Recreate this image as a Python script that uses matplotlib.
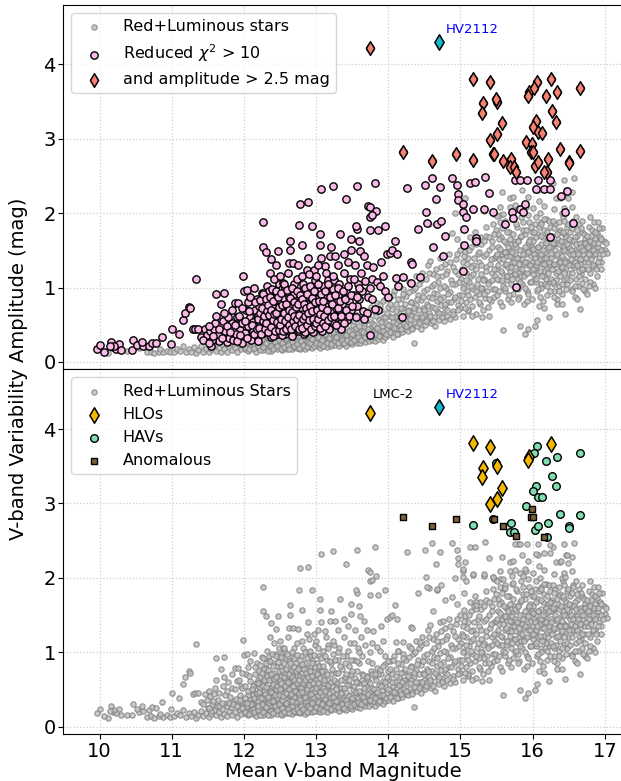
import numpy as np
import matplotlib

matplotlib.use("Agg")
import matplotlib.pyplot as plt  # noqa: E402

# ---- data (mean V mag, V amplitude) ----
# red+luminous stars that are NOT flagged by chi2 (plotted grey only)
grey_only = [
    (10.12, 0.12), (10.38, 0.15), (10.66, 0.13), (10.71, 0.14), (10.76, 0.12), (10.82, 0.14),
    (10.88, 0.13), (10.93, 0.15), (10.97, 0.13), (11.03, 0.14), (11.08, 0.18), (10.55, 0.19),
    (10.84, 0.17),
    (11.12, 0.15), (11.16, 0.22), (11.2, 0.13), (11.24, 0.18), (11.27, 0.14), (11.31, 0.20),
    (11.33, 0.12), (11.36, 0.16), (11.41, 0.21), (11.44, 0.14), (11.47, 0.18), (11.5, 0.25),
    (11.52, 0.13), (11.55, 0.17), (11.58, 0.22), (11.61, 0.15), (11.63, 0.28), (11.66, 0.19),
    (11.68, 0.13), (11.7, 0.24), (11.73, 0.17), (11.75, 0.31), (11.77, 0.14), (11.8, 0.21),
    (11.82, 0.26), (11.84, 0.16), (11.86, 0.35), (11.88, 0.19), (11.9, 0.13), (11.92, 0.28),
    (11.94, 0.22), (11.96, 0.17), (11.98, 0.33), (11.99, 0.25),
    (12.01, 0.18), (12.02, 0.31), (12.03, 0.24), (12.05, 0.42), (12.06, 0.15), (12.07, 0.27),
    (12.08, 0.36), (12.1, 0.21), (12.11, 0.49), (12.12, 0.17), (12.13, 0.30), (12.15, 0.23),
    (12.16, 0.39), (12.17, 0.14), (12.18, 0.28), (12.2, 0.55), (12.21, 0.19), (12.22, 0.34),
    (12.23, 0.25), (12.24, 0.44),
    (12.26, 0.16), (12.27, 0.29), (12.28, 0.37), (12.29, 0.21), (12.3, 0.62), (12.31, 0.26),
    (12.32, 0.18), (12.33, 0.41), (12.34, 0.33), (12.35, 0.22), (12.36, 0.5), (12.37, 0.15),
    (12.38, 0.28), (12.39, 0.36), (12.4, 0.24), (12.41, 0.45), (12.42, 0.19), (12.43, 0.31),
    (12.44, 0.58), (12.45, 0.27), (12.46, 0.17), (12.47, 0.38), (12.48, 0.23), (12.49, 0.33),
    (12.5, 0.2), (12.51, 0.47), (12.52, 0.29), (12.53, 0.16), (12.54, 0.35), (12.55, 0.25),
    (12.56, 0.66), (12.57, 0.21), (12.58, 0.4), (12.59, 0.3), (12.6, 0.18), (12.61, 0.52),
    (12.62, 0.26), (12.63, 0.34), (12.64, 0.22), (12.65, 0.43), (12.66, 0.17), (12.67, 0.31),
    (12.68, 0.6), (12.69, 0.24), (12.7, 0.37), (12.71, 0.2), (12.72, 0.28), (12.73, 0.48),
    (12.74, 0.19),
    (12.75, 0.33), (12.76, 0.23), (12.77, 0.42), (12.78, 0.18), (12.79, 0.3), (12.8, 0.55),
    (12.81, 0.26), (12.82, 0.21), (12.83, 0.38), (12.84, 0.29), (12.85, 0.17), (12.86, 0.46),
    (12.87, 0.25), (12.88, 0.34), (12.89, 0.2), (12.9, 0.63), (12.91, 0.28), (12.92, 0.22),
    (12.93, 0.4), (12.94, 0.31), (12.95, 0.19), (12.96, 0.51), (12.97, 0.27), (12.98, 0.36),
    (12.99, 0.23),
    (13.0, 0.3), (13.01, 0.21), (13.02, 0.42), (13.03, 0.26), (13.04, 0.35), (13.05, 0.19),
    (13.06, 0.5), (13.07, 0.29), (13.08, 0.23), (13.09, 0.39), (13.1, 0.32), (13.11, 0.22),
    (13.12, 0.46), (13.13, 0.27), (13.14, 0.36), (13.15, 0.2), (13.16, 0.55), (13.17, 0.31),
    (13.18, 0.25), (13.19, 0.41), (13.2, 0.29), (13.21, 0.22), (13.22, 0.48), (13.23, 0.34),
    (13.24, 0.26),
    (13.25, 0.38), (13.26, 0.23), (13.27, 0.58), (13.28, 0.3), (13.29, 0.44), (13.3, 0.25),
    (13.31, 0.35), (13.32, 0.21), (13.33, 0.52), (13.34, 0.32), (13.35, 0.27), (13.36, 0.41),
    (13.37, 0.24), (13.38, 0.62), (13.39, 0.33), (13.4, 0.29), (13.41, 0.47), (13.42, 0.22),
    (13.43, 0.37), (13.44, 0.28), (13.45, 0.56), (13.46, 0.34), (13.47, 0.25), (13.48, 0.43),
    (13.49, 0.31),
    (13.5, 0.24), (13.51, 0.5), (13.52, 0.36), (13.53, 0.28), (13.54, 0.65), (13.55, 0.33),
    (13.56, 0.26), (13.57, 0.45), (13.58, 0.38), (13.59, 0.3), (13.6, 0.58), (13.61, 0.25),
    (13.62, 0.41), (13.63, 0.34), (13.64, 0.7), (13.65, 0.29), (13.66, 0.48), (13.67, 0.37),
    (13.68, 0.27), (13.69, 0.55), (13.7, 0.4), (13.71, 0.32), (13.72, 0.63), (13.73, 0.28),
    (13.74, 0.46),
    (13.75, 0.36), (13.76, 0.74), (13.77, 0.3), (13.78, 0.52), (13.79, 0.42), (13.8, 0.33),
    (13.81, 0.67), (13.82, 0.28), (13.83, 0.47), (13.84, 0.38), (13.85, 0.79), (13.86, 0.31),
    (13.87, 0.56), (13.88, 0.43), (13.89, 0.35), (13.9, 0.7), (13.91, 0.49), (13.92, 0.3),
    (13.93, 0.61), (13.94, 0.4), (13.95, 0.84), (13.96, 0.34), (13.97, 0.53), (13.98, 0.45),
    (13.99, 0.74),
    (14.0, 0.36), (14.01, 0.62), (14.02, 0.49), (14.03, 0.88), (14.04, 0.41), (14.05, 0.71),
    (14.06, 0.55), (14.07, 0.34), (14.08, 0.95), (14.09, 0.6), (14.1, 0.45), (14.11, 0.78),
    (14.12, 0.52), (14.13, 0.38), (14.14, 1.02), (14.15, 0.66), (14.16, 0.48), (14.17, 0.84),
    (14.18, 0.57), (14.19, 0.4), (14.2, 0.73), (14.21, 0.98), (14.22, 0.51), (14.23, 0.63),
    (14.24, 0.44),
    (14.25, 0.89), (14.26, 0.58), (14.27, 0.42), (14.28, 1.08), (14.29, 0.7), (14.3, 0.5),
    (14.31, 0.81), (14.32, 0.62), (14.33, 0.46), (14.34, 0.97), (14.35, 0.26), (14.36, 0.68),
    (14.37, 0.53), (14.38, 1.15), (14.39, 0.76), (14.4, 0.48), (14.41, 0.9), (14.42, 0.6),
    (14.43, 1.05), (14.44, 0.55), (14.45, 0.83), (14.46, 0.45), (14.47, 1.2), (14.48, 0.72),
    (14.49, 0.63),
    (14.5, 0.95), (14.51, 0.5), (14.52, 1.12), (14.53, 0.78), (14.54, 0.58), (14.55, 1.3),
    (14.56, 0.88), (14.57, 0.66), (14.58, 1.36), (14.59, 0.52), (14.6, 1.02), (14.61, 0.74),
    (14.62, 1.18), (14.63, 0.61), (14.64, 0.93), (14.65, 0.48), (14.66, 1.25), (14.67, 0.82),
    (14.68, 0.69), (14.69, 1.08), (14.7, 0.57), (14.71, 0.99), (14.72, 1.4), (14.73, 0.76),
    (14.74, 0.64),
    (14.75, 1.15), (14.76, 0.87), (14.77, 0.55), (14.78, 1.32), (14.79, 0.72), (14.8, 1.0),
    (14.81, 0.62), (14.82, 1.22), (14.83, 0.8), (14.84, 1.45), (14.85, 0.58), (14.86, 0.94),
    (14.87, 1.1), (14.88, 1.74), (14.89, 0.68), (14.9, 1.28), (14.91, 0.85), (14.92, 1.05),
    (14.93, 0.6), (14.94, 1.38), (14.95, 1.65), (14.96, 0.77), (14.97, 1.18), (14.98, 0.9),
    (14.99, 1.5),
    (15.0, 0.72), (15.01, 1.12), (15.02, 0.9), (15.03, 1.35), (15.04, 0.62), (15.05, 1.02),
    (15.06, 1.48), (15.07, 0.8), (15.08, 1.2), (15.09, 0.95), (15.1, 0.68), (15.11, 1.4),
    (15.12, 1.08), (15.13, 0.85), (15.14, 1.55), (15.15, 1.15), (15.16, 0.75), (15.17, 1.3),
    (15.18, 0.98), (15.19, 1.62), (15.2, 0.88), (15.21, 1.25), (15.22, 0.65), (15.23, 1.05),
    (15.24, 1.45),
    (15.25, 0.92), (15.26, 1.35), (15.27, 0.78), (15.28, 1.18), (15.29, 1.58), (15.3, 1.0),
    (15.31, 0.7), (15.32, 1.42), (15.33, 1.12), (15.34, 0.86), (15.35, 1.7), (15.36, 1.28),
    (15.37, 0.95), (15.38, 0.74), (15.39, 1.5), (15.4, 1.08), (15.41, 1.32), (15.42, 0.82),
    (15.43, 1.2), (15.44, 1.62), (15.45, 0.98), (15.46, 1.4), (15.47, 0.88), (15.48, 1.15),
    (15.49, 1.78), (15.3, 0.61), (15.39, 0.62), (15.11, 0.7), (15.45, 1.85),
    (15.5, 1.25), (15.51, 0.9), (15.52, 1.55), (15.53, 1.1), (15.54, 1.38), (15.55, 0.8),
    (15.56, 1.68), (15.57, 1.2), (15.58, 1.45), (15.59, 0.43), (15.59, 1.02), (15.6, 1.85),
    (15.61, 1.3), (15.62, 0.95), (15.63, 1.6), (15.64, 1.15), (15.65, 1.42), (15.66, 0.85),
    (15.67, 1.75), (15.68, 1.22), (15.69, 1.5), (15.7, 1.05), (15.71, 1.92), (15.72, 1.35),
    (15.73, 0.92), (15.74, 1.62), (15.74, 1.18), (15.52, 1.72), (15.55, 1.98), (15.6, 1.48),
    (15.63, 1.1), (15.66, 1.28), (15.7, 1.58), (15.73, 1.4), (15.57, 0.75),
    (15.75, 1.28), (15.76, 1.0), (15.77, 1.55), (15.78, 1.82), (15.79, 1.12), (15.8, 1.4),
    (15.81, 0.88), (15.82, 1.68), (15.82, 0.49), (15.83, 1.25), (15.84, 1.95), (15.85, 1.05),
    (15.86, 1.5), (15.87, 1.32), (15.88, 0.78), (15.89, 0.38), (15.89, 1.72), (15.9, 1.18),
    (15.91, 1.45), (15.92, 0.95), (15.93, 0.45), (15.93, 1.6), (15.94, 1.3), (15.95, 1.88),
    (15.96, 1.08), (15.97, 1.52), (15.98, 1.22), (15.99, 0.85), (15.99, 1.75), (15.76, 1.45),
    (15.79, 1.62), (15.81, 1.2), (15.85, 1.38), (15.87, 1.78), (15.9, 1.0), (15.92, 1.35),
    (15.96, 1.65), (15.98, 1.42), (15.84, 1.15), (15.94, 1.98),
    (16.0, 1.35), (16.01, 1.62), (16.02, 1.1), (16.03, 1.85), (16.03, 0.49), (16.04, 1.28),
    (16.05, 1.5), (16.06, 0.57), (16.06, 0.95), (16.07, 1.72), (16.08, 1.2), (16.09, 1.42),
    (16.1, 2.0), (16.11, 1.05), (16.12, 1.58), (16.13, 1.32), (16.14, 0.82), (16.15, 1.78),
    (16.16, 1.15), (16.17, 1.48), (16.18, 1.92), (16.19, 1.25), (16.2, 0.9), (16.21, 1.65),
    (16.22, 1.38), (16.23, 0.61), (16.23, 1.08), (16.24, 1.82), (16.0, 1.18), (16.02, 1.45),
    (16.05, 1.3), (16.08, 1.55), (16.1, 1.38), (16.12, 1.0), (16.14, 1.68), (16.16, 1.4),
    (16.18, 1.12), (16.2, 1.52), (16.22, 1.9), (16.24, 1.3), (16.04, 1.95), (16.09, 0.75),
    (16.15, 1.22), (16.19, 1.6), (16.11, 1.88),
    (16.25, 1.45), (16.26, 1.12), (16.27, 1.7), (16.28, 1.3), (16.29, 0.95), (16.3, 1.58),
    (16.31, 1.85), (16.32, 1.2), (16.33, 1.42), (16.34, 0.85), (16.35, 1.65), (16.36, 1.35),
    (16.37, 1.02), (16.38, 1.78), (16.39, 1.25), (16.4, 1.5), (16.41, 0.92), (16.42, 1.95),
    (16.43, 1.38), (16.44, 1.1), (16.45, 0.64), (16.45, 1.62), (16.46, 1.28), (16.47, 1.82),
    (16.48, 1.05), (16.49, 1.48), (16.26, 1.55), (16.28, 1.9), (16.3, 1.05), (16.32, 1.6),
    (16.34, 1.32), (16.36, 1.75), (16.38, 1.15), (16.4, 1.28), (16.42, 1.55), (16.44, 1.72),
    (16.46, 0.98), (16.48, 1.35), (16.33, 0.78), (16.41, 2.0),
    (16.5, 1.55), (16.51, 1.2), (16.52, 1.75), (16.53, 1.38), (16.54, 0.98), (16.55, 1.62),
    (16.56, 1.9), (16.57, 1.28), (16.58, 0.88), (16.59, 1.5), (16.6, 1.12), (16.61, 1.7),
    (16.62, 1.4), (16.63, 1.02), (16.64, 1.85), (16.65, 0.71), (16.65, 1.32), (16.66, 1.58),
    (16.67, 1.18), (16.68, 1.06), (16.69, 1.75), (16.7, 1.45), (16.71, 1.25), (16.72, 1.65),
    (16.73, 0.95), (16.74, 1.52), (16.52, 1.45), (16.55, 1.3), (16.58, 1.68), (16.61, 1.48),
    (16.64, 1.22), (16.67, 1.8), (16.7, 1.6), (16.73, 1.35), (16.6, 1.95),
    (16.75, 0.92), (16.76, 1.62), (16.77, 1.35), (16.78, 1.82), (16.79, 1.5), (16.8, 1.2),
    (16.81, 1.7), (16.82, 1.42), (16.83, 1.58), (16.84, 1.05), (16.85, 1.88), (16.86, 1.3),
    (16.87, 1.65), (16.88, 1.48), (16.89, 1.15), (16.89, 1.73), (16.9, 1.88), (16.91, 1.55),
    (16.92, 1.4), (16.93, 1.68), (16.94, 1.25), (16.96, 1.8), (16.97, 1.5), (16.99, 1.62),
    (17.0, 1.51), (17.03, 1.46), (16.95, 1.35), (16.8, 1.95), (16.83, 1.28), (16.87, 1.0),
    (15.06, 2.21), (15.18, 2.04), (15.32, 2.03), (15.45, 2.01), (15.55, 2.09), (15.57, 2.28),
    (15.68, 2.21), (15.73, 2.22), (15.79, 2.45), (15.85, 2.31), (15.94, 2.22), (16.09, 2.16),
    (16.16, 2.10), (16.29, 2.05), (16.43, 2.07), (16.54, 2.09), (16.32, 2.21), (16.38, 2.21),
    (16.49, 2.20), (16.46, 2.31), (16.54, 2.28), (16.57, 2.47), (16.43, 2.45), (16.28, 2.41),
    (16.07, 2.31), (15.91, 2.09), (15.68, 2.09), (15.46, 1.99), (15.59, 1.99), (15.76, 2.11),
    (16.01, 2.07), (15.5, 1.96), (14.92, 2.0), (15.04, 2.09), (14.56, 1.86), (14.68, 1.84),
]

# more of the densely packed grey band and cloud
grey_dense = [
    (12.02, 0.2), (12.04, 0.27), (12.07, 0.17), (12.09, 0.32), (12.12, 0.24), (12.14, 0.19),
    (12.17, 0.35), (12.19, 0.22), (12.22, 0.16), (12.25, 0.3), (12.27, 0.2), (12.3, 0.26),
    (12.33, 0.15), (12.35, 0.32), (12.38, 0.21), (12.4, 0.18), (12.43, 0.27), (12.46, 0.22),
    (12.48, 0.3), (12.51, 0.17), (12.53, 0.25), (12.56, 0.2), (12.58, 0.32), (12.61, 0.23),
    (12.63, 0.18), (12.66, 0.27), (12.69, 0.21), (12.71, 0.33), (12.74, 0.24), (12.76, 0.19),
    (12.79, 0.28), (12.82, 0.23), (12.84, 0.35), (12.87, 0.2), (12.89, 0.27), (12.92, 0.25),
    (12.95, 0.31), (12.97, 0.21), (13.0, 0.26), (13.03, 0.33), (13.05, 0.24), (13.08, 0.3),
    (13.1, 0.21), (13.13, 0.37), (13.15, 0.26), (13.18, 0.32), (13.2, 0.24), (13.23, 0.4),
    (13.26, 0.28), (13.28, 0.34), (13.31, 0.26), (13.33, 0.42), (13.36, 0.3), (13.38, 0.25),
    (13.41, 0.36), (13.43, 0.3), (13.46, 0.41), (13.48, 0.27),
    (13.5, 0.38), (13.52, 0.55), (13.53, 0.3), (13.55, 0.46), (13.57, 0.6), (13.58, 0.33),
    (13.6, 0.48), (13.62, 0.3), (13.63, 0.62), (13.65, 0.4), (13.67, 0.52), (13.68, 0.34),
    (13.7, 0.68), (13.72, 0.44), (13.73, 0.36), (13.75, 0.58), (13.77, 0.4), (13.78, 0.7),
    (13.8, 0.5), (13.82, 0.38), (13.83, 0.62), (13.85, 0.46), (13.87, 0.35), (13.88, 0.76),
    (13.9, 0.54), (13.92, 0.42), (13.93, 0.82), (13.95, 0.6), (13.97, 0.38), (13.98, 0.66),
    (14.0, 0.5), (14.02, 0.78), (14.03, 0.4), (14.05, 0.6), (14.07, 0.9), (14.08, 0.46),
    (14.1, 0.68), (14.12, 0.38), (14.13, 0.85), (14.15, 0.56), (14.17, 0.72), (14.18, 0.44),
    (14.2, 0.92), (14.22, 0.62), (14.23, 0.78), (14.25, 0.48), (14.27, 0.68), (14.28, 0.94),
    (14.3, 0.58), (14.32, 0.8), (14.33, 0.44), (14.35, 0.72), (14.37, 1.0), (14.38, 0.6),
    (14.4, 0.84), (14.42, 0.52), (14.43, 0.7), (14.45, 1.1), (14.47, 0.6), (14.48, 0.88),
    (14.5, 0.7), (14.52, 0.55), (14.53, 0.98), (14.55, 0.75), (14.57, 1.2), (14.58, 0.62),
    (14.6, 0.86), (14.62, 0.55), (14.63, 1.05), (14.65, 0.72), (14.67, 0.92), (14.68, 1.15),
    (14.7, 0.66), (14.72, 0.84), (14.73, 1.28), (14.75, 0.6), (14.77, 1.02), (14.78, 0.78),
    (14.8, 1.18), (14.82, 0.7), (14.83, 0.92), (14.85, 1.35), (14.87, 0.8), (14.88, 1.05),
    (14.9, 0.64), (14.92, 1.22), (14.93, 0.88), (14.95, 1.45), (14.97, 0.7), (14.98, 1.08),
    (15.01, 0.82), (15.02, 1.25), (15.04, 1.0), (15.05, 1.42), (15.06, 0.72), (15.08, 1.1),
    (15.09, 1.32), (15.11, 0.9), (15.12, 1.5), (15.14, 1.02), (15.15, 1.28), (15.16, 0.62),
    (15.18, 1.18), (15.19, 1.4), (15.21, 0.95), (15.22, 1.58), (15.24, 1.12), (15.25, 0.8),
    (15.26, 1.48), (15.28, 1.0), (15.29, 1.3), (15.31, 1.1), (15.32, 1.62), (15.33, 0.92),
    (15.35, 1.22), (15.36, 1.45), (15.38, 1.05), (15.39, 1.68), (15.4, 0.85), (15.42, 1.38),
    (15.43, 1.55), (15.44, 1.1), (15.46, 1.25), (15.47, 1.72), (15.48, 0.98), (15.49, 1.42),
    (15.27, 1.68), (15.13, 1.68), (15.2, 1.75), (15.36, 1.82),
    (15.5, 1.12), (15.51, 1.45), (15.52, 1.3), (15.53, 1.65), (15.54, 0.95), (15.55, 1.52),
    (15.56, 1.22), (15.57, 1.8), (15.58, 1.1), (15.59, 1.38), (15.6, 1.62), (15.61, 1.0),
    (15.62, 1.48), (15.63, 1.32), (15.64, 1.75), (15.65, 1.15), (15.66, 1.55), (15.67, 0.9),
    (15.68, 1.42), (15.69, 1.65), (15.7, 1.28), (15.71, 1.48), (15.72, 1.12), (15.73, 1.72),
    (15.74, 1.35), (15.75, 1.58), (15.76, 1.18), (15.77, 1.85), (15.78, 1.4), (15.79, 0.98),
    (15.8, 1.62), (15.81, 1.32), (15.82, 1.5), (15.83, 1.08), (15.84, 1.7), (15.85, 1.25),
    (15.86, 1.88), (15.87, 1.45), (15.88, 1.15), (15.89, 1.55), (15.9, 1.35), (15.91, 1.78),
    (15.92, 1.2), (15.93, 1.48), (15.94, 0.92), (15.95, 1.62), (15.96, 1.3), (15.97, 1.82),
    (15.98, 1.08), (15.99, 1.55), (15.55, 1.88), (15.62, 1.9), (15.7, 0.8), (15.8, 0.85),
    (15.92, 0.82),
    (16.0, 1.52), (16.01, 1.25), (16.02, 1.75), (16.03, 1.4), (16.04, 1.08), (16.05, 1.68),
    (16.06, 1.35), (16.07, 1.55), (16.08, 0.98), (16.09, 1.82), (16.1, 1.22), (16.11, 1.45),
    (16.12, 1.7), (16.13, 1.15), (16.14, 1.5), (16.15, 1.32), (16.16, 1.92), (16.17, 1.05),
    (16.18, 1.6), (16.19, 1.4), (16.2, 1.75), (16.21, 1.2), (16.22, 1.55), (16.23, 1.35),
    (16.24, 0.95), (16.25, 1.68), (16.26, 1.4), (16.27, 1.25), (16.28, 1.6), (16.29, 1.8),
    (16.3, 1.32), (16.31, 1.5), (16.32, 1.1), (16.33, 1.72), (16.34, 1.45), (16.35, 1.22),
    (16.36, 1.58), (16.37, 1.88), (16.38, 1.35), (16.39, 1.62), (16.4, 1.05), (16.41, 1.42),
    (16.42, 1.75), (16.43, 1.2), (16.44, 1.5), (16.45, 1.35), (16.46, 1.68), (16.47, 1.12),
    (16.48, 1.58), (16.49, 1.85), (16.05, 1.12), (16.12, 1.85), (16.2, 1.02), (16.28, 1.08),
    (16.36, 0.95), (16.44, 1.9), (16.1, 0.88), (16.3, 0.88), (16.15, 0.72), (16.4, 0.78),
    (16.5, 1.3), (16.51, 1.65), (16.52, 1.1), (16.53, 1.5), (16.54, 1.8), (16.55, 1.2),
    (16.56, 1.45), (16.57, 1.62), (16.58, 1.35), (16.59, 1.02), (16.6, 1.58), (16.61, 1.3),
    (16.62, 1.78), (16.63, 1.45), (16.64, 1.15), (16.65, 1.6), (16.66, 1.38), (16.67, 1.55),
    (16.68, 1.9), (16.69, 1.25), (16.7, 1.5), (16.71, 1.72), (16.72, 1.12), (16.73, 1.6),
    (16.74, 1.4), (16.75, 1.7), (16.76, 1.25), (16.77, 1.55), (16.78, 1.45), (16.79, 1.08),
    (16.8, 1.62), (16.81, 1.38), (16.82, 1.78), (16.83, 1.5), (16.84, 1.3), (16.85, 1.6),
    (16.86, 1.45), (16.87, 1.75), (16.88, 1.25), (16.9, 1.6), (16.91, 1.35), (16.92, 1.8),
    (16.94, 1.5), (16.95, 1.65), (16.98, 1.45), (17.01, 1.6), (16.55, 0.95), (16.62, 0.85),
    (16.7, 0.98), (16.78, 1.02),
]

# reduced chi2 > 10
chi2_flagged = [
    (9.96, 0.18), (10.0, 0.23), (10.06, 0.14), (10.16, 0.27), (10.19, 0.20), (10.23, 0.18),
    (10.27, 0.24), (10.3, 0.16), (10.2, 0.22), (10.47, 0.30), (10.45, 0.16), (10.52, 0.23),
    (10.6, 0.21), (10.59, 0.27), (10.69, 0.22), (10.73, 0.26), (10.78, 0.25), (10.87, 0.33),
    (10.99, 0.24), (11.01, 0.45), (11.1, 0.38), (10.14, 0.21),
    (11.15, 0.57), (11.18, 0.66), (11.24, 0.74), (11.26, 0.72), (11.34, 1.11), (11.29, 0.44),
    (11.32, 0.45), (11.37, 0.45), (11.4, 0.33), (11.46, 0.44), (11.49, 0.36), (11.53, 0.41),
    (11.58, 0.44), (11.54, 0.21), (11.62, 0.92), (11.72, 0.93), (11.68, 0.78), (11.71, 0.55),
    (11.76, 0.27), (11.8, 0.32), (11.85, 0.30), (11.87, 0.79), (11.92, 0.79), (11.91, 0.61),
    (11.83, 0.52), (11.94, 0.43), (11.99, 1.16), (11.64, 0.36), (11.6, 0.52), (11.66, 0.28),
    (11.74, 0.42), (11.78, 0.6), (11.89, 0.37), (11.96, 0.55), (11.97, 0.25), (11.43, 0.30),
    (11.56, 0.30), (11.52, 0.25),
    (12.0, 0.96), (12.04, 0.97), (12.14, 0.99), (12.06, 0.80), (12.03, 0.70), (12.08, 0.61),
    (11.97, 0.52), (12.01, 0.39), (12.1, 0.30), (12.15, 0.70), (12.17, 0.59), (12.05, 0.48),
    (12.12, 0.42), (12.2, 0.35), (12.22, 0.52), (12.18, 0.85), (12.24, 0.62), (12.23, 0.45),
    (12.09, 0.88), (12.13, 0.54), (12.19, 0.28), (12.21, 0.75),
    (12.25, 0.93), (12.27, 1.88), (12.27, 1.55), (12.31, 1.48), (12.36, 1.20), (12.38, 1.39),
    (12.45, 1.31), (12.47, 1.49), (12.45, 0.97), (12.4, 0.86), (12.31, 0.79), (12.29, 0.61),
    (12.35, 0.52), (12.26, 0.39), (12.38, 0.34), (12.28, 0.48), (12.3, 0.7), (12.33, 0.88),
    (12.34, 0.42), (12.37, 0.65), (12.39, 0.55), (12.41, 0.72), (12.42, 0.45), (12.43, 0.6),
    (12.44, 0.82), (12.46, 0.38), (12.47, 0.68), (12.48, 0.52), (12.49, 1.05), (12.32, 1.02),
    (12.42, 1.12), (12.48, 0.92), (12.35, 0.95), (12.28, 0.78), (12.41, 0.35), (12.44, 0.5),
    (12.5, 1.15), (12.54, 1.06), (12.64, 1.63), (12.64, 1.50), (12.63, 1.33), (12.68, 1.33),
    (12.5, 0.62), (12.51, 0.8), (12.52, 0.45), (12.53, 0.98), (12.55, 0.55), (12.56, 0.72),
    (12.57, 0.38), (12.58, 0.9), (12.59, 0.5), (12.6, 0.65), (12.61, 1.2), (12.62, 0.42),
    (12.63, 0.78), (12.65, 0.58), (12.66, 0.95), (12.67, 0.48), (12.68, 0.7), (12.69, 1.05),
    (12.7, 0.4), (12.71, 0.6), (12.72, 0.85), (12.73, 0.52), (12.74, 1.12), (12.52, 0.68),
    (12.55, 0.85), (12.58, 0.62), (12.6, 0.44), (12.62, 0.88), (12.65, 0.75), (12.67, 0.62),
    (12.7, 0.92), (12.72, 0.46), (12.74, 0.7), (12.57, 1.0), (12.66, 0.35), (12.53, 0.36),
    (12.75, 1.31), (12.77, 1.84), (12.78, 2.13), (12.89, 2.15), (12.81, 1.57), (12.95, 1.83),
    (12.89, 1.40), (12.87, 1.24), (12.97, 1.24), (12.75, 0.55), (12.76, 0.8), (12.77, 0.42),
    (12.78, 0.68), (12.79, 0.95), (12.8, 0.5), (12.81, 0.72), (12.82, 1.05), (12.83, 0.38),
    (12.84, 0.6), (12.85, 0.85), (12.86, 0.47), (12.87, 0.7), (12.88, 0.58), (12.89, 1.0),
    (12.9, 0.43), (12.91, 0.8), (12.92, 0.62), (12.93, 0.52), (12.94, 0.9), (12.95, 0.68),
    (12.96, 0.4), (12.97, 0.75), (12.98, 1.1), (12.99, 0.56), (12.78, 0.55), (12.82, 0.65),
    (12.85, 0.4), (12.88, 0.78), (12.92, 0.95), (12.95, 0.5), (12.8, 1.15), (12.9, 1.18),
    (12.98, 0.65),
    (13.05, 1.72), (13.06, 1.57), (13.07, 2.32), (13.07, 1.40), (13.0, 1.15), (13.12, 1.29),
    (13.19, 1.42), (13.23, 2.36), (13.0, 0.62), (13.01, 0.85), (13.02, 0.48), (13.03, 0.72),
    (13.04, 0.95), (13.05, 0.55), (13.06, 0.8), (13.08, 0.42), (13.09, 0.66), (13.1, 1.02),
    (13.11, 0.58), (13.13, 0.75), (13.14, 0.5), (13.15, 0.9), (13.16, 0.62), (13.17, 1.1),
    (13.18, 0.45), (13.2, 0.7), (13.21, 0.85), (13.22, 0.55), (13.24, 0.98), (13.03, 1.3),
    (13.14, 1.2), (13.2, 1.55), (13.25, 1.1),
    (13.42, 2.19), (13.33, 1.72), (13.49, 1.65), (13.49, 1.51), (13.27, 0.72), (13.29, 0.6),
    (13.3, 0.9), (13.32, 1.05), (13.34, 0.52), (13.36, 0.78), (13.38, 1.2), (13.4, 0.66),
    (13.41, 0.95), (13.43, 0.56), (13.45, 0.82), (13.47, 1.12), (13.48, 0.7), (13.3, 1.3),
    (13.38, 1.45), (13.44, 1.35), (13.35, 0.45), (13.26, 1.42),
    (13.56, 2.37), (13.72, 2.10), (13.74, 2.08), (13.56, 1.79), (13.55, 1.83), (13.74, 1.77),
    (13.75, 1.95), (13.61, 1.49), (13.66, 1.42), (13.7, 1.30), (13.68, 1.09), (13.56, 0.75),
    (13.65, 0.69), (13.7, 0.66), (13.52, 0.9), (13.58, 1.05), (13.6, 0.85), (13.62, 1.2),
    (13.64, 0.95), (13.72, 0.88), (13.74, 1.0), (13.54, 1.3), (13.59, 1.62), (13.66, 0.58),
    (13.82, 2.41), (13.83, 2.03), (13.77, 1.97), (13.86, 1.77), (13.95, 1.83), (13.79, 1.28),
    (13.77, 1.12), (13.85, 1.07), (13.89, 1.02), (13.96, 0.95), (14.0, 0.88), (13.77, 0.85),
    (13.86, 0.70), (13.81, 0.71), (13.75, 0.36), (13.98, 1.45), (14.02, 1.47), (13.9, 1.35),
    (13.93, 1.15),
    (14.09, 1.63), (14.05, 1.50), (14.12, 1.45), (14.11, 1.13), (14.14, 1.02), (14.19, 0.60),
    (14.21, 1.14), (14.26, 2.34), (14.32, 1.34), (14.33, 1.32), (14.32, 1.06), (14.41, 1.79),
    (14.44, 1.14), (14.51, 2.38), (14.52, 2.01), (14.54, 1.87), (14.6, 2.47), (14.62, 1.55),
    (14.66, 2.19), (14.68, 1.85), (14.72, 2.35), (14.73, 1.90), (14.76, 1.42), (14.78, 1.70),
    (14.88, 2.47), (14.95, 2.38), (14.97, 2.26), (14.96, 2.18),
    (15.03, 2.12), (15.04, 2.01), (15.07, 1.95), (15.05, 1.79), (15.05, 1.57), (15.04, 1.22),
    (15.13, 2.41), (15.2, 2.42), (15.18, 2.05), (15.22, 1.67), (15.22, 1.63), (15.32, 2.05),
    (15.34, 2.48), (15.39, 2.27), (15.45, 2.01), (15.61, 1.86), (15.72, 2.02), (15.73, 1.93),
    (15.76, 2.45), (15.83, 2.45), (15.83, 2.06), (15.86, 2.02), (15.89, 2.12), (15.92, 2.45),
    (16.05, 2.32), (16.08, 2.45), (16.16, 2.33), (16.24, 2.44), (16.24, 2.33), (16.39, 2.23),
    (16.45, 2.01), (16.47, 2.30), (16.56, 1.87), (16.24, 1.68), (15.77, 1.01),
]

# the tightly packed core of the chi2-flagged group
chi2_dense = [
    (11.52, 0.48), (11.57, 0.35), (11.61, 0.62), (11.65, 0.45), (11.69, 0.32), (11.73, 0.66),
    (11.77, 0.48), (11.81, 0.4), (11.84, 0.7), (11.88, 0.5), (11.9, 0.28), (11.93, 0.62),
    (11.95, 0.36), (11.98, 0.72), (12.02, 0.55), (12.04, 0.32), (12.07, 0.68), (12.11, 0.5),
    (12.14, 0.38), (12.16, 0.8), (12.18, 0.45), (12.19, 0.62),
    (12.2, 0.58), (12.21, 0.46), (12.22, 0.83), (12.23, 0.66), (12.24, 0.38), (12.25, 0.72),
    (12.26, 0.55), (12.27, 0.92), (12.28, 0.62), (12.29, 0.44), (12.3, 0.85), (12.31, 0.53),
    (12.32, 0.68), (12.33, 0.4), (12.34, 0.76), (12.35, 0.63), (12.36, 0.88), (12.37, 0.47),
    (12.38, 0.7), (12.39, 0.98), (12.4, 0.57), (12.41, 0.82), (12.42, 0.64), (12.43, 0.42),
    (12.44, 0.95), (12.45, 0.66), (12.46, 0.54), (12.47, 0.87), (12.48, 0.43), (12.49, 0.74),
    (12.5, 0.5), (12.51, 0.93), (12.52, 0.58), (12.53, 0.76), (12.54, 0.41), (12.55, 0.66),
    (12.56, 1.05), (12.57, 0.55), (12.58, 0.78), (12.59, 0.45), (12.6, 0.97), (12.61, 0.6),
    (12.62, 0.7), (12.63, 0.5), (12.64, 0.86), (12.65, 0.44), (12.66, 0.67), (12.67, 1.0),
    (12.68, 0.55), (12.69, 0.8), (12.7, 0.62), (12.71, 0.48), (12.72, 0.74), (12.73, 0.96),
    (12.74, 0.58), (12.75, 0.78), (12.76, 0.45), (12.77, 0.63), (12.78, 0.9), (12.79, 0.52),
    (12.8, 0.84), (12.81, 0.46), (12.82, 0.58), (12.83, 0.78), (12.84, 1.0), (12.85, 0.62),
    (12.86, 0.72), (12.87, 0.5), (12.88, 0.92), (12.89, 0.66), (12.9, 0.56), (12.91, 1.02),
    (12.92, 0.75), (12.93, 0.44), (12.94, 0.68), (12.95, 0.86), (12.96, 0.58), (12.97, 0.96),
    (12.98, 0.48), (12.99, 0.8), (13.0, 0.52), (13.01, 0.7), (13.02, 1.05), (13.03, 0.58),
    (13.04, 0.82), (13.05, 0.46), (13.06, 0.65), (13.07, 0.92), (13.08, 0.74), (13.09, 0.52),
    (13.1, 0.82), (13.11, 0.62), (13.12, 0.95), (13.13, 0.48), (13.15, 0.7), (13.16, 1.05),
    (13.17, 0.56), (13.19, 0.88), (13.2, 0.6), (13.22, 0.78), (13.23, 1.15), (13.25, 0.62),
    (13.26, 0.9), (13.28, 0.5), (13.3, 0.72), (13.31, 1.0), (13.33, 0.82), (13.35, 0.62),
    (13.37, 0.95), (13.39, 0.52), (13.4, 0.85), (13.42, 0.7), (13.44, 1.02), (13.46, 0.62),
    (13.48, 0.9), (13.5, 0.75), (13.52, 1.12), (13.55, 0.6), (13.57, 0.88), (13.6, 1.0),
]

# chi2 > 10 and amplitude > 2.5 mag, split into classes
hlo = [
    (13.74, 4.22), (15.17, 3.81), (15.41, 3.76), (15.95, 3.63), (15.93, 3.58), (16.26, 3.80),
    (15.31, 3.48), (15.51, 3.50), (15.30, 3.35), (15.57, 3.21), (15.51, 3.06), (15.41, 2.99),
]
hav = [
    (16.06, 3.77), (16.02, 3.68), (16.19, 3.57), (16.34, 3.63), (16.66, 3.68), (15.49, 3.54),
    (16.27, 3.37), (16.32, 3.23), (16.05, 3.24), (16.00, 3.16), (16.07, 3.09), (16.13, 3.08),
    (15.91, 2.96), (16.38, 2.86), (16.66, 2.84), (15.18, 2.71), (15.45, 2.79), (15.70, 2.73),
    (15.68, 2.62), (15.74, 2.62), (16.03, 2.64), (16.08, 2.69), (16.21, 2.73), (16.20, 2.55),
    (16.51, 2.69), (16.50, 2.67),
]
anomalous = [
    (14.21, 2.82), (14.61, 2.70), (14.94, 2.79), (15.47, 2.79), (15.59, 2.70), (15.77, 2.56),
    (15.99, 2.93), (15.97, 2.82), (16.01, 2.82), (16.16, 2.55),
]
hv2112 = (14.70, 4.30)
lmc2 = (13.74, 4.22)


def xy(rows):
    a = np.array(rows, dtype=float)
    return a[:, 0], a[:, 1]


big_amp = hlo + hav + anomalous
flagged = chi2_flagged + chi2_dense + big_amp
all_stars = grey_only + grey_dense + flagged + [hv2112]

GREY = dict(s=15, facecolor="#c0c0c0", edgecolor="#828282", linewidths=0.8, alpha=0.85)

fig = plt.figure(figsize=(6.21, 7.81), dpi=100)
ax1 = fig.add_axes([0.1021, 0.527, 0.901, 0.4667])
ax2 = fig.add_axes([0.1021, 0.0602, 0.901, 0.4667], sharex=ax1)

# --- top panel ---
ax1.scatter(*xy(all_stars), label="Red+Luminous stars", zorder=2, **GREY)
ax1.scatter(*xy(flagged), s=28, facecolor="#f9b8e6", edgecolor="black",
            linewidths=1.0, label=r"Reduced $\chi^2$ > 10", zorder=3)
ax1.scatter(*xy(big_amp), marker="d", s=48, facecolor="#f88272", edgecolor="black",
            linewidths=1.1, label="and amplitude > 2.5 mag", zorder=4)
ax1.scatter([hv2112[0]], [hv2112[1]], marker="d", s=62, facecolor="#17b9cc",
            edgecolor="black", linewidths=1.1, zorder=5)
ax1.text(hv2112[0] + 0.1, 4.47, "HV2112", color="blue", fontsize=9.5, va="center")
ax1.legend(loc="upper left", fontsize=11.5)

# --- bottom panel ---
ax2.scatter(*xy(all_stars), label="Red+Luminous Stars", zorder=2, **GREY)
ax2.scatter(*xy(hlo), marker="d", s=62, facecolor="#f5b800", edgecolor="black",
            linewidths=1.1, label="HLOs", zorder=4)
ax2.scatter(*xy(hav), s=30, facecolor="#80deb0", edgecolor="black",
            linewidths=1.0, label="HAVs", zorder=3)
ax2.scatter(*xy(anomalous), marker="s", s=22, facecolor="#7d6038", edgecolor="black",
            linewidths=1.0, label="Anomalous", zorder=3)
ax2.scatter([hv2112[0]], [hv2112[1]], marker="d", s=62, facecolor="#17b9cc",
            edgecolor="black", linewidths=1.1, zorder=5)
ax2.text(hv2112[0] + 0.1, 4.47, "HV2112", color="blue", fontsize=9.5, va="center")
ax2.text(lmc2[0] + 0.05, 4.47, "LMC-2", color="black", fontsize=9.5, va="center")
ax2.legend(loc="upper left", fontsize=11.5)

for ax in (ax1, ax2):
    ax.set_xlim(9.5, 17.25)
    ax.set_ylim(-0.1, 4.8)
    ax.set_yticks([0, 1, 2, 3, 4])
    ax.set_xticks(range(10, 18))
    ax.grid(True, linestyle=":", color="#cfcfcf", linewidth=0.9)
    ax.set_axisbelow(True)
    ax.tick_params(labelsize=14, pad=2)
ax1.tick_params(labelbottom=False)
ax2.set_xlabel("Mean V-band Magnitude", fontsize=14, labelpad=1)
fig.text(0.029, 0.528, "V-band Variability Amplitude (mag)", rotation=90,
         ha="center", va="center", fontsize=14)

fig.savefig("out.png", dpi=100)
